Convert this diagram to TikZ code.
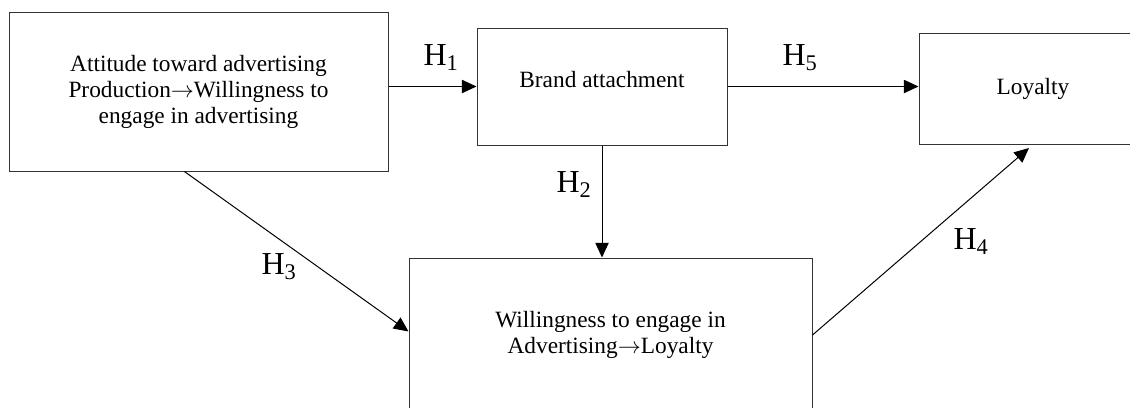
\documentclass[tikz,border=0pt]{standalone}
\usepackage{fontspec}
\setmainfont{Liberation Serif}
\usepackage{tikz}
\usetikzlibrary{arrows.meta}

\tikzset{
  box/.style={draw=black!80, line width=.75pt, align=center, inner sep=0pt,
    font=\fontsize{17.5}{19.5}\selectfont},
  hyp/.style={font=\fontsize{24}{26}\selectfont, inner sep=0pt},
  link/.style={line width=.75pt, -{Triangle[length=11pt,width=10pt]}}
}
\newcommand{\arr}{$\rightarrow$}

\begin{document}
\begin{tikzpicture}[x=.75pt, y=-.75pt]
\useasboundingbox (0,0) rectangle (1130,407);
%% boxes
\node[box, minimum width=284.25pt, minimum height=119.25pt] (att) at (198.5,91.5)
  {Attitude toward advertising\\Production\arr Willingness to\\engage in advertising};
\node[box, minimum width=187.5pt, minimum height=87.75pt, text depth=10pt] (brand) at (602,86.5) {Brand attachment};
\node[box, minimum width=171pt, minimum height=83.25pt] (loyal) at (1033,88.5) {Loyalty};
\node[box, minimum width=302.25pt, minimum height=115.5pt] (will) at (610.5,335)
  {Willingness to engage in\\Advertising\arr Loyalty};
%% paths
\draw[link] (att.east |- brand.west) -- (brand.west);
\draw[link] (brand.east) -- (brand.east -| loyal.west);
\draw[link] (brand.south) -- (brand.south |- will.north);
\draw[link] (att.260) -- (will.179);
\draw[link, shorten >=4pt] (will.east) -- (loyal.south);
%% labels
\node[hyp] (h1) at (441,58) {H\textsubscript{1}};
\node[hyp] (h5) at (800,58) {H\textsubscript{5}};
\node[hyp] (h2) at (574,185) {H\textsubscript{2}};
\node[hyp] (h3) at (279,267) {H\textsubscript{3}};
\node[hyp] (h4) at (971,242) {H\textsubscript{4}};
\end{tikzpicture}
\end{document}
